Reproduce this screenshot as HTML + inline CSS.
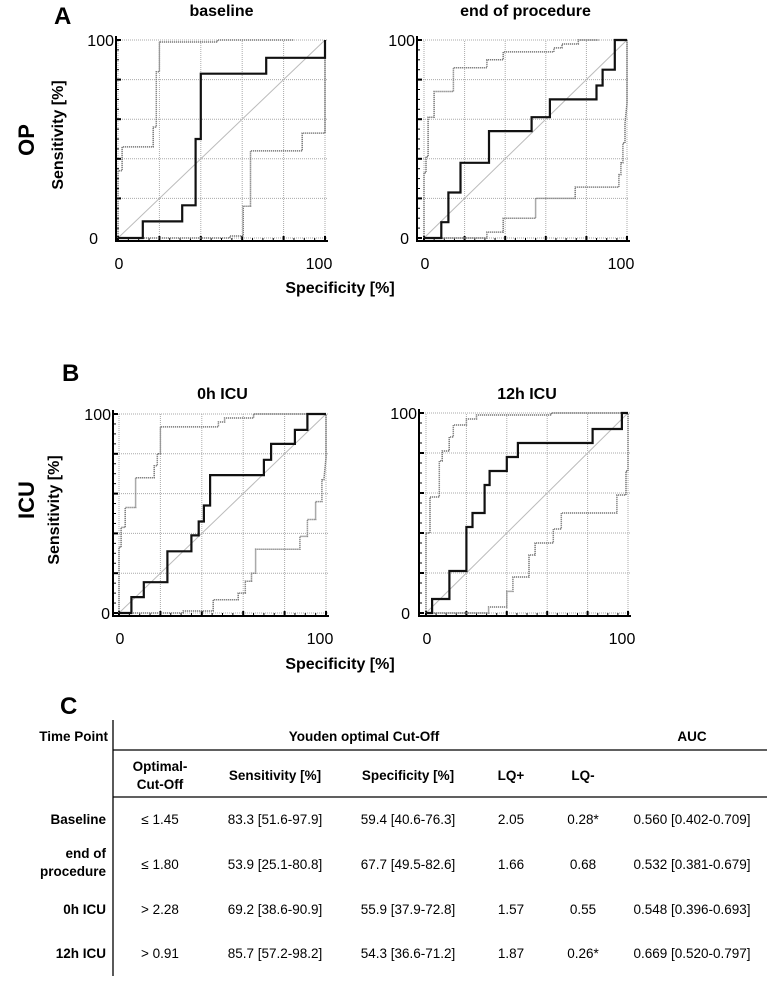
<!DOCTYPE html>
<html><head><meta charset="utf-8">
<style>
body{margin:0;background:#fff;}
svg{display:block;font-family:"Liberation Sans",Arial,sans-serif;}
.tb{font-size:13.5px;}
</style></head>
<body>
<svg id="fig" width="775" height="982" viewBox="0 0 775 982" xmlns="http://www.w3.org/2000/svg">
<g id="panels"></g>
<!-- labels -->
<text x="54" y="24" font-size="24" font-weight="bold">A</text>
<text x="62" y="381" font-size="24" font-weight="bold">B</text>
<text x="60" y="714" font-size="24" font-weight="bold">C</text>
<text transform="translate(34,140) rotate(-90)" text-anchor="middle" font-size="22" font-weight="bold">OP</text>
<text transform="translate(34,500) rotate(-90)" text-anchor="middle" font-size="22" font-weight="bold">ICU</text>
<text transform="translate(63,135) rotate(-90)" text-anchor="middle" font-size="16" font-weight="bold">Sensitivity [%]</text>
<text transform="translate(59,510) rotate(-90)" text-anchor="middle" font-size="16" font-weight="bold">Sensitivity [%]</text>
<text x="340" y="293" text-anchor="middle" font-size="16" font-weight="bold">Specificity [%]</text>
<text x="340" y="669" text-anchor="middle" font-size="16" font-weight="bold">Specificity [%]</text>

<!-- table C -->
<g class="tb">
<line x1="113" y1="720" x2="113" y2="976" stroke="#000" stroke-width="1.3"/>
<line x1="113" y1="750" x2="767" y2="750" stroke="#000" stroke-width="1.3"/>
<line x1="113" y1="797" x2="767" y2="797" stroke="#000" stroke-width="1.3"/>
<g font-weight="bold">
<text x="108" y="741" text-anchor="end">Time Point</text>
<text x="364" y="741" text-anchor="middle">Youden optimal Cut-Off</text>
<text x="692" y="741" text-anchor="middle">AUC</text>
<text x="160" y="771" text-anchor="middle">Optimal-</text>
<text x="160" y="789" text-anchor="middle">Cut-Off</text>
<text x="275" y="780" text-anchor="middle">Sensitivity [%]</text>
<text x="408" y="780" text-anchor="middle">Specificity [%]</text>
<text x="511" y="780" text-anchor="middle">LQ+</text>
<text x="583" y="780" text-anchor="middle">LQ-</text>
<text x="106" y="824" text-anchor="end">Baseline</text>
<text x="106" y="858" text-anchor="end">end of</text>
<text x="106" y="876" text-anchor="end">procedure</text>
<text x="106" y="914" text-anchor="end">0h ICU</text>
<text x="106" y="958" text-anchor="end">12h ICU</text>
</g>
<g text-anchor="middle">
<text x="160" y="824">≤ 1.45</text><text x="275" y="824">83.3 [51.6-97.9]</text><text x="408" y="824">59.4 [40.6-76.3]</text><text x="511" y="824">2.05</text><text x="583" y="824">0.28*</text><text x="692" y="824">0.560 [0.402-0.709]</text>
<text x="160" y="869">≤ 1.80</text><text x="275" y="869">53.9 [25.1-80.8]</text><text x="408" y="869">67.7 [49.5-82.6]</text><text x="511" y="869">1.66</text><text x="583" y="869">0.68</text><text x="692" y="869">0.532 [0.381-0.679]</text>
<text x="160" y="914">&gt; 2.28</text><text x="275" y="914">69.2 [38.6-90.9]</text><text x="408" y="914">55.9 [37.9-72.8]</text><text x="511" y="914">1.57</text><text x="583" y="914">0.55</text><text x="692" y="914">0.548 [0.396-0.693]</text>
<text x="160" y="958">&gt; 0.91</text><text x="275" y="958">85.7 [57.2-98.2]</text><text x="408" y="958">54.3 [36.6-71.2]</text><text x="511" y="958">1.87</text><text x="583" y="958">0.26*</text><text x="692" y="958">0.669 [0.520-0.797]</text>
</g>
</g>
</svg>
<script>
// ---- data (x = specificity axis value, y = sensitivity) ----
const baseRocX = [0,12,12,31,31,37.5,37.5,40,40,71.6,71.6,100,100];
const baseRocY = [0,0,8.4,8.4,16.5,16.5,50,50,83,83,91,91,100];
const baseUpX = [0,0,2,2,17,17,18.5,18.5,20,20,48,48,85];
const baseUpY = [0,34,34,46,46,56,56,84,84,99,99,100,100];
const baseLoX = [0,54,54,60.5,60.5,64,64,89,89,100,100];
const baseLoY = [0,0,1,1,16,16,44,44,53,53,100];

const endRocX = [0,8.5,8.5,12,12,18,18,32,32,53,53,62,62,85,85,88,88,94,94,100];
const endRocY = [0,0,8,8,23,23,38,38,54,54,61,61,70,70,77,77,85,85,100,100];
const endUpX = [0,0,1,1,2,2,5,5,14.5,14.5,31,31,39,39,64,64,68,68,76,76,86];
const endUpY = [0,33,33,41,41,61,61,74,74,86,86,90,90,94,94,96,96,98,98,100,100];
const endLoX = [0,31,31,39,39,55,55,74.5,74.5,96,96,97,97,98,98,99,99,100,100];
const endLoY = [0,0,3,3,10,10,20,20,25.7,25.7,32,32,38,38,48,48,58,68,100];

const icu0RocX = [0,6,6,12,12,23.4,23.4,35,35,38.5,38.5,41,41,44,44,70,70,73.5,73.5,85,85,91,91,100];
const icu0RocY = [0,0,8,8,15.5,15.5,31,31,39,39,46,46,54,54,69.3,69.3,77,77,85,85,92,92,100,100];
const icu0UpX = [0,0,1,1,3,3,8,8,17,17,18.5,18.5,20,20,48,48,51,51,65,65,100];
const icu0UpY = [0,33,33,43,43,53,53,68,68,74,74,80,80,93.5,93.5,96,96,98,98,100,100];
const icu0LoX = [0,31,31,45.5,45.5,57.6,57.6,61,61,64,64,66,66,87.4,87.4,91,91,95,95,98,98,99,100,100];
const icu0LoY = [0,0,1,1,6.7,6.7,10,10,16,16,20,20,32,32,38.5,38.5,47,47,56,56,67,67,78,100];

const icu12RocX = [0,3,3,11.6,11.6,20,20,23,23,29,29,31.5,31.5,40,40,45.5,45.5,82.5,82.5,97,97,100];
const icu12RocY = [0,0,7,7,21,21,43,43,50,50,64,64,71,71,78,78,85,85,92,92,100,100];
const icu12UpX = [0,0,0,2,2,6.6,6.6,8,8,11.5,11.5,13.5,13.5,20,20,25,25,62,62,100];
const icu12UpY = [0,31,40,40,58,58,76,76,81,81,88,88,94,94,97,97,99,99,100,100];
const icu12LoX = [0,31,31,40,40,43,43,51,51,54,54,63,63,67,67,94.5,94.5,99,99,100,100];
const icu12LoY = [0,0,3,3,10.8,10.8,18,18,29,29,35,35,42,42,50,50,59,59,71,71,100];

const axisTickLabels = ["0","100"];

const NS = "http://www.w3.org/2000/svg";
function mk(tag, attrs, parent){
  const e = document.createElementNS(NS, tag);
  for (const k in attrs) e.setAttribute(k, attrs[k]);
  parent.appendChild(e); return e;
}
const panels = [
  {name:"baseline", title:"baseline", x0:118, x1:325, y0:238, y1:40, spine:116, roc:[baseRocX,baseRocY], up:[baseUpX,baseUpY], lo:[baseLoX,baseLoY], ty:16, yl100x:114, yl0x:98},
  {name:"end-of-procedure", title:"end of procedure", x0:424, x1:627, y0:238, y1:40, spine:417, roc:[endRocX,endRocY], up:[endUpX,endUpY], lo:[endLoX,endLoY], ty:16, yl100x:415, yl0x:409},
  {name:"0h-icu", title:"0h ICU", x0:119, x1:326, y0:613, y1:414, spine:113, roc:[icu0RocX,icu0RocY], up:[icu0UpX,icu0UpY], lo:[icu0LoX,icu0LoY], ty:399, yl100x:111, yl0x:110},
  {name:"12h-icu", title:"12h ICU", x0:426, x1:628, y0:613, y1:413, spine:419, roc:[icu12RocX,icu12RocY], up:[icu12UpX,icu12UpY], lo:[icu12LoX,icu12LoY], ty:399, yl100x:417, yl0x:410}
];
const root = document.getElementById("panels");
panels.forEach(p=>{
  const g = mk("g", {}, root);
  
  
  const sx = v => p.x0 + (p.x1-p.x0)*v/100;
  const sy = v => p.y0 + (p.y1-p.y0)*v/100;
  for (let v=0; v<=100; v+=20){
    mk("line",{x1:sx(v),x2:sx(v),y1:sy(0)+2,y2:sy(100),stroke:"#aaa","stroke-width":1,"stroke-dasharray":"1,1"},g);
    mk("line",{x1:p.spine,x2:sx(100)+2,y1:sy(v),y2:sy(v),stroke:"#aaa","stroke-width":1,"stroke-dasharray":"1,1"},g);
  }
  const d = mk("line",{x1:sx(0),y1:sy(0),x2:sx(100),y2:sy(100),stroke:"#bbb","stroke-width":1},g);
  
  
  const by = sy(0)+3;
  const ax = mk("path",{d:`M${p.spine},${sy(100)-4} V${by} H${sx(100)+3}`,fill:"none",stroke:"#000","stroke-width":2},g);
  
  
  for (let v=0; v<=100; v+=5){
    const major = v%20===0;
    mk("line",{x1:sx(v),x2:sx(v),y1:by,y2:by-(major?5:3),stroke:"#000","stroke-width":major?2:1},g);
    mk("line",{x1:p.spine,x2:p.spine+(major?5:3),y1:sy(v),y2:sy(v),stroke:"#000","stroke-width":major?2:1},g);
  }
  const path = (xs,ys)=>xs.map((x,i)=>(i?"L":"M")+sx(x).toFixed(1)+","+sy(ys[i]).toFixed(1)).join(" ");
  const up = mk("path",{d:path(p.up[0],p.up[1]),fill:"none",stroke:"#777","stroke-width":1.5,"stroke-dasharray":"1.2,0.8"},g);
  
  
  const lo = mk("path",{d:path(p.lo[0],p.lo[1]),fill:"none",stroke:"#777","stroke-width":1.5,"stroke-dasharray":"1.2,0.8"},g);
  
  
  const roc = mk("path",{d:path(p.roc[0],p.roc[1]),fill:"none",stroke:"#111","stroke-width":2.2},g);
  
  
  const t = mk("text",{x:(p.x0+p.x1)/2,y:p.ty,"text-anchor":"middle","font-size":16,"font-weight":"bold"},g);
  t.textContent = p.title;
  
  
  const l100 = mk("text",{x:p.yl100x,y:sy(100)+6,"text-anchor":"end","font-size":16},g);
  l100.textContent = axisTickLabels[1];
  
  
  const l0 = mk("text",{x:p.yl0x,y:sy(0)+6,"text-anchor":"end","font-size":16},g);
  l0.textContent = axisTickLabels[0];
  
  
  const xl0 = mk("text",{x:sx(0)+1,y:sy(0)+31,"text-anchor":"middle","font-size":16},g);
  xl0.textContent = axisTickLabels[0];
  
  
  const xl1 = mk("text",{x:sx(100)-6,y:sy(0)+31,"text-anchor":"middle","font-size":16},g);
  xl1.textContent = axisTickLabels[1];
  
  
});
</script>
</body></html>
